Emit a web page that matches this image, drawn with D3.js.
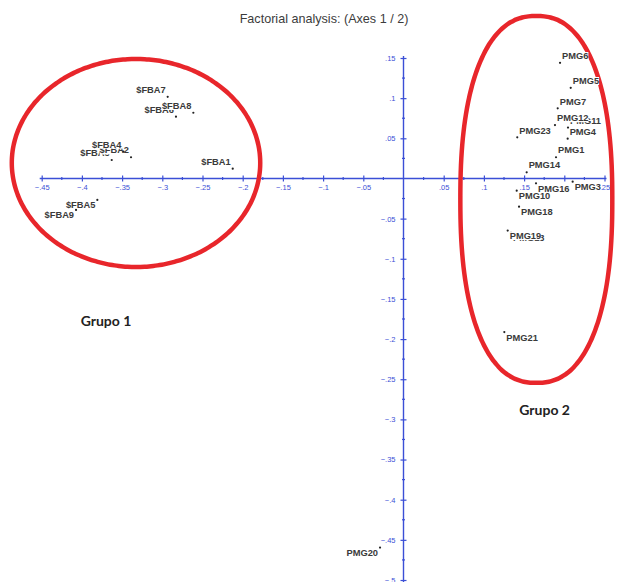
<!DOCTYPE html>
<html>
<head>
<meta charset="utf-8">
<script src="https://cdn.jsdelivr.net/npm/d3@7"></script>
<style>
  body { margin: 0; background: #fff; }
  svg { display: block; }
</style>
</head>
<body>
<div id="chart"></div>
<script>
// points (axis 1, axis 2); hidden labels first so others sit on top
let names = ["$FBA6", "$FBA7", "$FBA8", "$FBA3", "$FBA2", "$FBA4", "$FBA1", "$FBA5", "$FBA9",
             "PMG11", "PMG6", "PMG5", "PMG7", "PMG12", "PMG23", "PMG4", "PMG1", "PMG14",
             "PMG10", "PMG16", "PMG3", "PMG18", "PMG13", "PMG19", "PMG21", "PMG20"];
let axis1 = [-0.283, -0.2933, -0.2614, -0.3629, -0.3389, -0.3483, -0.2124, -0.3808, -0.4073,
             0.2046, 0.1947, 0.208, 0.1918, 0.1884, 0.1415, 0.2042, 0.1897, 0.1532,
             0.1408, 0.1648, 0.2104, 0.1437, 0.1337, 0.1296, 0.1254, -0.0292];
let axis2 = [0.0769, 0.1017, 0.0818, 0.023, 0.0264, 0.0336, 0.0122, -0.0267, -0.0392,
             0.0634, 0.144, 0.1129, 0.0873, 0.0665, 0.0512, 0.0495, 0.0264, 0.0077,
             -0.0152, -0.006, -0.004, -0.0351, -0.0678, -0.0649, -0.1913, -0.4596];

let xTicks = [-0.45, -0.4, -0.35, -0.3, -0.25, -0.2, -0.15, -0.1, -0.05, 0.05, 0.1, 0.15, 0.2, 0.25];
let yTicks = [0.15, 0.1, 0.05, -0.05, -0.1, -0.15, -0.2, -0.25, -0.3, -0.35, -0.4, -0.45, -0.5];

// hand drawn group rings, in axis units: [cx, cy, rx, ry, roundness]
let groupRings = [[-0.3327, 0.0193, 0.1545, 0.1295, 2], [0.1652, -0.0261, 0.0945, 0.2284, 2.35]];
let groupNames = ["Grupo 1", "Grupo 2"];
let groupLabelAt = [[-0.37, -0.184], [0.1755, -0.295]];

let width = 631, height = 582;
let axisBlue = "#3b4fd6";

let svg = d3.select("#chart").append("svg")
    .attr("width", width)
    .attr("height", height);

let x = d3.scaleLinear().domain([-0.45, 0.25]).range([41.7, 604.5]);
let y = d3.scaleLinear().domain([-0.5, 0.15]).range([580, 58]);

let fmt = function(d) {
    return d3.format(".2~f")(d).replace("0.", ".");
};

// title
svg.append("text")
    .attr("x", 324)
    .attr("y", 23)
    .style("text-anchor", "middle")
    .style("font-family", "Liberation Sans, Arial, sans-serif")
    .style("font-size", "12.6px")
    .style("fill", "#3c3c3c")
    .text("Factorial analysis: (Axes 1 / 2)");

// x axis through origin
let xAxis = svg.append("g")
    .attr("transform", "translate(0," + y(0) + ")")
    .call(d3.axisBottom(x).tickValues(xTicks).tickFormat(fmt).tickSize(3).tickPadding(3));
xAxis.select(".domain").attr("d", "M" + (x(-0.45) - 2) + ",0H" + (x(0.25) + 2));

let xMinor = d3.range(-0.425, 0.25, 0.05);
xAxis.selectAll(".minor").data(xMinor).enter()
    .append("line")
    .attr("class", "minor")
    .attr("x1", d => x(d)).attr("x2", d => x(d))
    .attr("y1", -1.5).attr("y2", 1.5);

// y axis through origin
let yAxis = svg.append("g")
    .attr("transform", "translate(" + x(0) + ",0)")
    .call(d3.axisLeft(y).tickValues(yTicks).tickFormat(fmt).tickSize(3).tickPadding(5));
yAxis.select(".domain").attr("d", "M0," + (y(0.15) - 2) + "V" + height);

let yMinor = d3.range(-0.475, 0.15, 0.05);
yAxis.selectAll(".minor").data(yMinor).enter()
    .append("line")
    .attr("class", "minor")
    .attr("y1", d => y(d)).attr("y2", d => y(d))
    .attr("x1", -1.5).attr("x2", 1.5);

// ticks cross the axis line
xAxis.selectAll(".tick line").attr("y1", -3);
yAxis.selectAll(".tick line").attr("x1", 3);

[xAxis, yAxis].forEach(function(a) {
    a.select(".domain").attr("stroke", axisBlue).attr("stroke-width", 1.4);
    a.selectAll("line").attr("stroke", axisBlue).attr("stroke-width", 1.2);
    a.selectAll(".tick text")
        .style("font-family", "Liberation Sans, Arial, sans-serif")
        .style("font-size", "7.5px")
        .style("fill", axisBlue);
});

// red rings (slightly full, like the hand drawn ones)
let kx = (x(1) - x(0)), ky = (y(0) - y(1));
let ringPath = function(d) {
    let e = 2 / d[4];
    let pts = d3.range(0, 2 * Math.PI, Math.PI / 90).map(function(t) {
        let c = Math.cos(t), s = Math.sin(t);
        return [x(d[0]) + d[2] * kx * Math.sign(c) * Math.pow(Math.abs(c), e),
                y(d[1]) + d[3] * ky * Math.sign(s) * Math.pow(Math.abs(s), e)];
    });
    return d3.line().curve(d3.curveCardinalClosed)(pts);
};
svg.append("g").selectAll("path").data(groupRings).enter()
    .append("path")
    .attr("d", ringPath)
    .attr("fill", "none")
    .attr("stroke", "#e8262b")
    .attr("stroke-width", 4.5);

// points
let pts = names.map(function(n, i) { return { name: n, a1: axis1[i], a2: axis2[i] }; });

let labels = svg.append("g");
pts.forEach(function(d) {
    let g = labels.append("g");
    let right = d.a1 >= 0;
    let up = d.a2 >= 0;
    let t = g.append("text")
        .attr("x", x(d.a1) + (right ? 2 : -2))
        .attr("y", y(d.a2) + (up ? -3.8 : 8.5))
        .style("text-anchor", right ? "start" : "end")
        .style("font-family", "Liberation Sans, Arial, sans-serif")
        .style("font-size", "9.3px")
        .style("font-weight", "bold")
        .style("fill", "#3a3a3a")
        .text(d.name);
    let b = t.node().getBBox();
    g.insert("rect", "text")
        .attr("x", b.x).attr("y", b.y + 1)
        .attr("width", b.width).attr("height", b.height - 2)
        .attr("fill", "#fff");
    g.append("circle")
        .attr("cx", x(d.a1))
        .attr("cy", y(d.a2))
        .attr("r", 1.1)
        .attr("fill", "#222");
});

svg.append("g").selectAll("text").data(groupNames).enter()
    .append("text")
    .attr("x", (d, i) => x(groupLabelAt[i][0]))
    .attr("y", (d, i) => y(groupLabelAt[i][1]))
    .style("text-anchor", "middle")
    .style("font-family", "Lato, sans-serif")
    .style("font-size", "14px")
    .style("font-weight", "bold")
    .style("fill", "#222")
    .text(d => d);
</script>
</body>
</html>
